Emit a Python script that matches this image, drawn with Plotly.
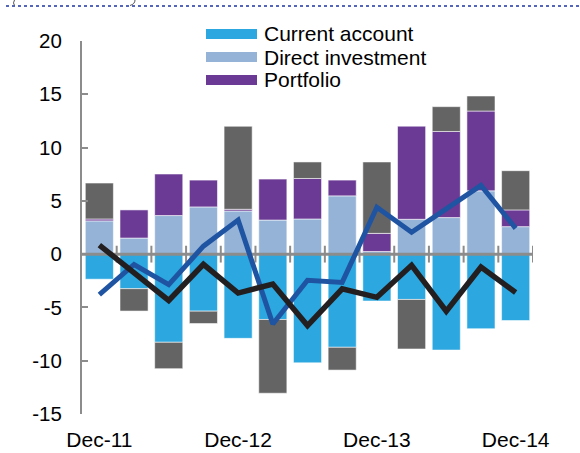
import plotly.graph_objects as go

quarters = ['Dec-11', 'Mar-12', 'Jun-12', 'Sep-12', 'Dec-12', 'Mar-13', 'Jun-13',
            'Sep-13', 'Dec-13', 'Mar-14', 'Jun-14', 'Sep-14', 'Dec-14']
current_account = [-2.35, -3.24, -8.27, -5.35, -7.9, -6.13, -10.2, -8.74, -4.4, -4.25, -9.0, -7.0, -6.23]
direct_investment = [3.12, 1.51, 3.62, 4.43, 4.05, 3.2, 3.3, 5.47, 0.25, 3.27, 3.43, 5.94, 2.58]
portfolio = [0.18, 2.64, 3.9, 2.52, 0.16, 3.84, 3.8, 1.48, 1.7, 8.74, 8.08, 7.49, 1.57]
other = [3.37, -2.1, -2.48, -1.16, 7.79, -6.92, 1.55, -2.14, 6.7, -4.65, 2.33, 1.41, 3.68]
blue_line = [-3.8, -0.97, -2.86, 0.75, 3.2, -6.55, -2.45, -2.65, 4.4, 2.05, 4.25, 6.45, 2.42]
black_line = [0.85, -1.8, -4.35, -0.95, -3.65, -2.8, -6.7, -3.25, -4.05, -1.05, -5.35, -1.2, -3.6]
y_ticks = [-15, -10, -5, 0, 5, 10, 15, 20]
y_tick_labels = [str(v) for v in y_ticks]

x = list(range(len(quarters)))
label_vals = [i for i, q in enumerate(quarters) if q.startswith('Dec')]
label_text = [q for q in quarters if q.startswith('Dec')]

FONT = "Liberation Sans, Arial, sans-serif"
AXIS_GRAY = '#8C8C8C'
edge = dict(width=1, color='rgba(255,255,255,0.55)')

fig = go.Figure()
fig.add_bar(x=x, y=current_account, name='Current account', marker=dict(color='#2CA7DF', line=edge))
fig.add_bar(x=x, y=direct_investment, name='Direct investment', marker=dict(color='#95B3D7', line=edge))
fig.add_bar(x=x, y=portfolio, name='Portfolio', marker=dict(color='#6B3A94', line=edge))
fig.add_bar(x=x, y=other, name='Other', marker=dict(color='#646464', line=edge))

# horizontal axis at zero with category-boundary tick marks
fig.add_scatter(x=[-0.5, len(x) - 0.5], y=[0, 0], mode='lines',
                line=dict(color=AXIS_GRAY, width=3), hoverinfo='skip')
fig.add_scatter(x=[i + 0.5 for i in x], y=[0] * len(x), mode='markers',
                marker=dict(symbol='line-ns', size=12, line=dict(color=AXIS_GRAY, width=2)),
                hoverinfo='skip')

fig.add_scatter(x=x, y=blue_line, mode='lines', name='Blue line',
                line=dict(color='#1F54A2', width=5))
fig.add_scatter(x=x, y=black_line, mode='lines', name='Black line',
                line=dict(color='#231F20', width=5.5))

# plot area in pixels: x 82..533, y 41..414
L, R, T, B = 82, 47, 41, 39
W, H = 580, 453
pw, ph = W - L - R, H - T - B


def px(xp):
    return (xp - L) / pw


def py(yp):
    return (H - B - yp) / ph


shapes = []
annotations = []
# custom legend
legend_items = [('Current account', '#2CA7DF', 34), ('Direct investment', '#95B3D7', 57),
                ('Portfolio', '#6B3A94', 80)]
for name, col, yc in legend_items:
    shapes.append(dict(type='rect', xref='paper', yref='paper', x0=px(206), x1=px(257),
                       y0=py(yc + 5), y1=py(yc - 5), fillcolor=col, line=dict(width=0)))
    annotations.append(dict(xref='paper', yref='paper', x=px(262), y=py(yc), text=name,
                            showarrow=False, xanchor='left', yanchor='middle',
                            font=dict(family=FONT, size=21, color='#000000')))

# top decoration: dotted rule and corner arcs
shapes.append(dict(type='line', xref='paper', yref='paper', x0=px(6), x1=px(580),
                   y0=py(6), y1=py(6), line=dict(color='#5566B8', width=2, dash='dot')))
shapes.append(dict(type='path', xref='paper', yref='paper',
                   path=f"M {px(14.5)},{py(0)} Q {px(12.5)},{py(3)} {px(14.5)},{py(5.5)}",
                   line=dict(color='#555555', width=1)))
shapes.append(dict(type='path', xref='paper', yref='paper',
                   path=f"M {px(135)},{py(0)} Q {px(135)},{py(4)} {px(130)},{py(5.5)}",
                   line=dict(color='#555555', width=1)))

fig.update_layout(
    width=W, height=H,
    margin=dict(l=L, r=R, t=T, b=B, autoexpand=False),
    barmode='relative',
    bargap=0.19,
    showlegend=False,
    plot_bgcolor='white',
    paper_bgcolor='white',
    font=dict(family=FONT, size=20, color='#000000'),
    shapes=shapes,
    annotations=annotations,
    xaxis=dict(range=[-0.5, len(x) - 0.5], tickvals=label_vals, ticktext=label_text,
               showgrid=False, zeroline=False, showline=False, ticks='', automargin=False,
               ticklabelstandoff=11, tickfont=dict(family=FONT, size=21)),
    yaxis=dict(range=[-15, 20], tickvals=y_ticks, ticktext=y_tick_labels,
               showgrid=False, zeroline=False, automargin=False,
               showline=True, linecolor=AXIS_GRAY, linewidth=2,
               ticks='inside', ticklen=6, tickwidth=2, tickcolor=AXIS_GRAY,
               ticklabelstandoff=14, tickfont=dict(family=FONT, size=20.5)),
)

fig.write_html("out.html", config={'displayModeBar': False},
               post_script="document.body.style.margin='0';document.body.style.overflow='hidden';")
